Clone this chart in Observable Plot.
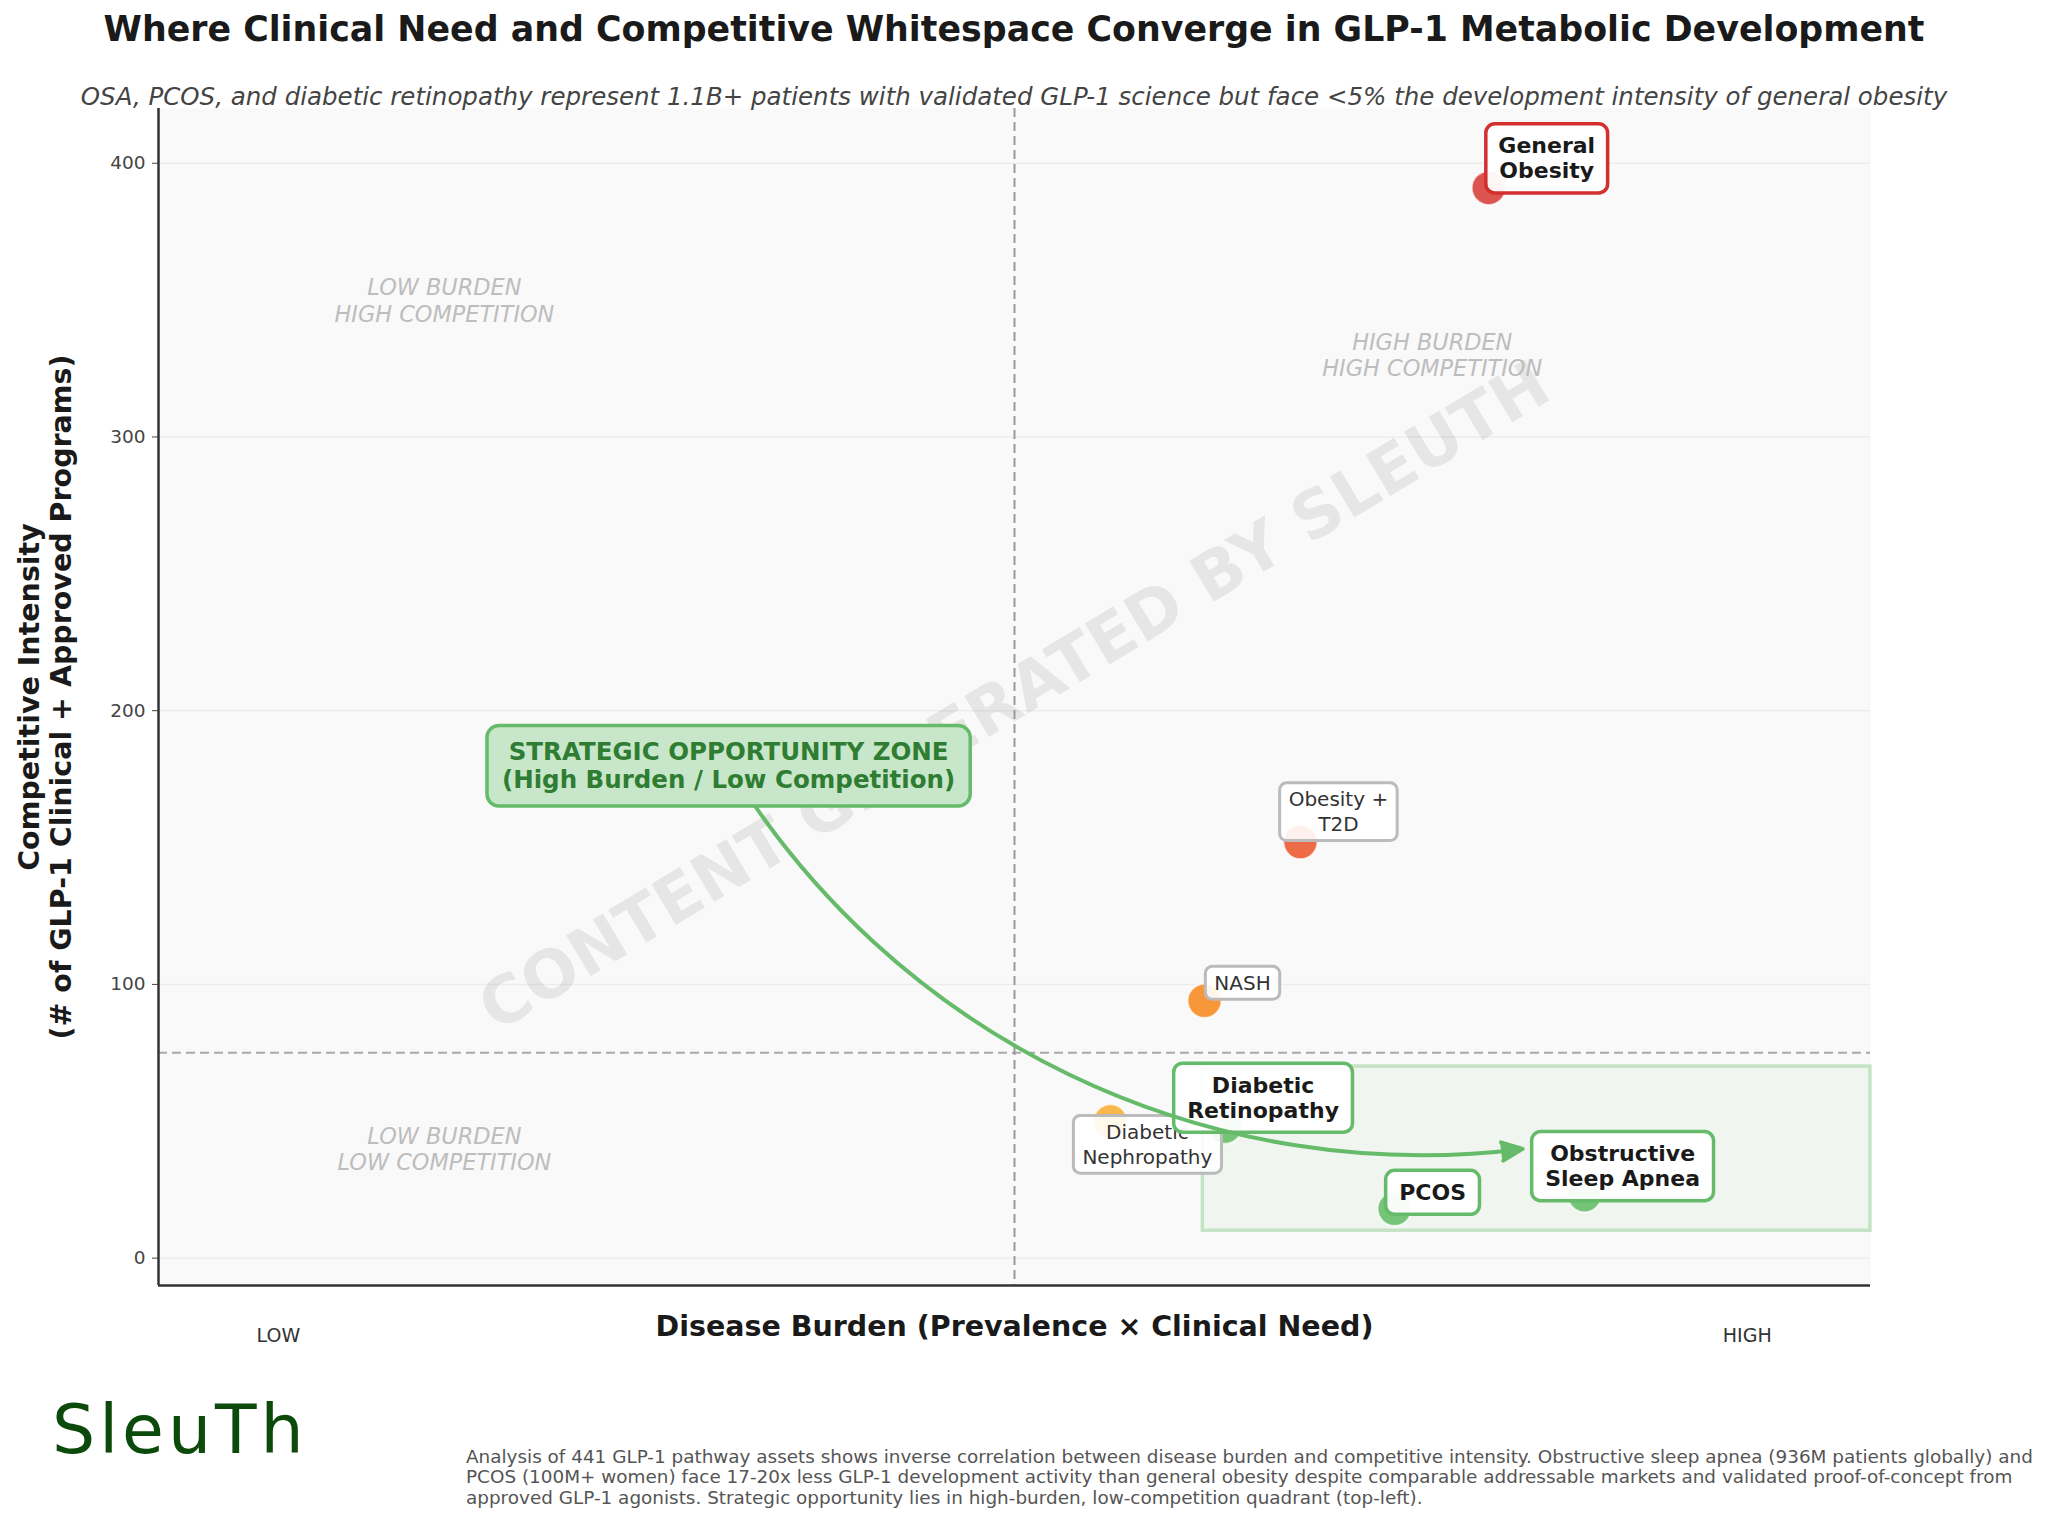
<!DOCTYPE html>
<html>
<head>
<meta charset="utf-8">
<script src="https://cdn.jsdelivr.net/npm/d3@7"></script>
<script src="https://cdn.jsdelivr.net/npm/@observablehq/plot@0.6"></script>
<style>
  html, body { margin: 0; padding: 0; background: #ffffff; }
  body { width: 2048px; height: 1524px; overflow: hidden; position: relative; font-family: "DejaVu Sans", sans-serif; }
  #chart { position: absolute; left: 0; top: 0; }
  #title { position: absolute; left: 0; width: 2028px; top: 9px; text-align: center; font-size: 34.8px; line-height: 40px; font-weight: bold; color: #1a1a1a; }
  #subtitle { position: absolute; left: 0; width: 2028px; top: 82px; text-align: center; font-size: 24.5px; line-height: 30px; font-style: italic; color: #444; }
  #logo { position: absolute; left: 52px; top: 1390px; font-size: 68px; line-height: 80px; font-weight: 400; color: #0b4a0b; letter-spacing: 4px; }
  #caption { position: absolute; left: 466px; top: 1447px; font-size: 18.4px; line-height: 20.3px; color: #555; white-space: pre; }
</style>
</head>
<body>
<div id="chart"></div>
<div id="title"></div>
<div id="subtitle"></div>
<div id="logo"></div>
<div id="caption"></div>
<script>
// ---------- Text ----------
const titleText = "Where Clinical Need and Competitive Whitespace Converge in GLP-1 Metabolic Development";
const subtitleText = "OSA, PCOS, and diabetic retinopathy represent 1.1B+ patients with validated GLP-1 science but face <5% the development intensity of general obesity";
const xAxisLabel = "Disease Burden (Prevalence × Clinical Need)";
const yAxisLabel = "Competitive Intensity\n(# of GLP-1 Clinical + Approved Programs)";
const watermarkText = "CONTENT GENERATED BY SLEUTH";
const logoText = "SleuTh";
const captionLines = [
  "Analysis of 441 GLP-1 pathway assets shows inverse correlation between disease burden and competitive intensity. Obstructive sleep apnea (936M patients globally) and",
  "PCOS (100M+ women) face 17-20x less GLP-1 development activity than general obesity despite comparable addressable markets and validated proof-of-concept from",
  "approved GLP-1 agonists. Strategic opportunity lies in high-burden, low-competition quadrant (top-left)."
];

// ---------- Data ----------
const indications = ["General Obesity", "Obesity + T2D", "NASH", "Diabetic Nephropathy", "Diabetic Retinopathy", "PCOS", "Obstructive Sleep Apnea"];
const labelText = ["General\nObesity", "Obesity +\nT2D", "NASH", "Diabetic\nNephropathy", "Diabetic\nRetinopathy", "PCOS", "Obstructive\nSleep Apnea"];
const diseaseBurden = [7.77, 6.67, 6.11, 5.56, 6.23, 7.22, 8.33];
const competitiveIntensity = [391, 152, 94, 50, 48, 18, 23];

const highlightRed = ["General Obesity"];
const highlightGreen = ["Diabetic Retinopathy", "PCOS", "Obstructive Sleep Apnea"];
const labelBelow = ["Diabetic Nephropathy"];

const yTicks = [0, 100, 200, 300, 400];
const xTickPositions = [0.7, 9.28];
const xTickLabels = ["LOW", "HIGH"];

const burdenThreshold = 5;
const competitionThreshold = 75;

const quadrantLabels = ["LOW BURDEN\nHIGH COMPETITION", "HIGH BURDEN\nHIGH COMPETITION", "LOW BURDEN\nLOW COMPETITION"];
const quadrantBurden = [1.67, 7.44, 1.67];
const quadrantCompetition = [350, 330, 40];

const zoneBurden = [6.1, 10];
const zoneCompetition = [10, 70];

const calloutText = "STRATEGIC OPPORTUNITY ZONE\n(High Burden / Low Competition)";
const calloutBurden = 3.33;
const calloutCompetition = 180;
const arrowTargetBurden = 7.98;
const arrowTargetCompetition = 40;

// colours (styles)
const pointColors = ["#dc5450", "#ee6b47", "#f7973a", "#f8b84e", "#74c476", "#76c478", "#76c478"];

// ---------- Build ----------
const rows = indications.map((name, i) => ({
  name, label: labelText[i], burden: diseaseBurden[i], competition: competitiveIntensity[i]
}));
const quadrants = quadrantLabels.map((t, i) => ({t, x: quadrantBurden[i], y: quadrantCompetition[i]}));

document.getElementById("title").textContent = titleText;
document.getElementById("subtitle").textContent = subtitleText;
document.getElementById("logo").textContent = logoText;
document.getElementById("caption").textContent = captionLines.join("\n");

const grayRows = rows.filter(d => !highlightRed.includes(d.name) && !highlightGreen.includes(d.name) && !labelBelow.includes(d.name));

const chart = Plot.plot({
  width: 2048,
  height: 1380,
  marginLeft: 158,
  marginRight: 178,
  marginTop: 108,
  marginBottom: 95,
  x: {domain: [0, 10]},
  y: {domain: [-10, 420]},
  color: {domain: indications, range: pointColors},
  style: {fontFamily: "DejaVu Sans", fontSize: "17px", color: "#333", background: "transparent", overflow: "visible"},
  marks: [
    Plot.frame({fill: "#f9f9f9", stroke: null}),
    Plot.text([watermarkText], {frameAnchor: "middle", rotate: -31, fontSize: 65.5, fontWeight: "bold", fill: "#000", fillOpacity: 0.075}),
    Plot.gridY({ticks: yTicks, stroke: "#000", strokeOpacity: 0.05, strokeWidth: 1.5}),
    Plot.text(quadrants, {x: "x", y: "y", text: "t", fontSize: 22.4, fontStyle: "italic", fill: "#bdbdbd", lineHeight: 1.17}),
    Plot.ruleX([burdenThreshold], {stroke: "#9a9a9a", strokeWidth: 2, strokeDasharray: "9,5"}),
    Plot.ruleY([competitionThreshold], {stroke: "#9a9a9a", strokeWidth: 2, strokeDasharray: "9,5", strokeOpacity: 0.85}),
    Plot.rect([0], {x1: () => zoneBurden[0], x2: () => zoneBurden[1], y1: () => zoneCompetition[0], y2: () => zoneCompetition[1],
      fill: "#4caf50", fillOpacity: 0.05, stroke: "#a5d6a7", strokeOpacity: 0.6, strokeWidth: 3.5}),
    Plot.dot(rows, {x: "burden", y: "competition", r: 17, fill: "name", stroke: "white", strokeWidth: 2, strokeOpacity: 0.7}),
    // labels
    Plot.text(grayRows, {x: "burden", y: "competition", text: "label", className: "lbl-gray",
      fontSize: 20, fill: "#333", lineHeight: 1.24, lineAnchor: "bottom", dx: 38, dy: -11}),
    Plot.text(rows.filter(d => labelBelow.includes(d.name)), {x: "burden", y: "competition", text: "label", className: "lbl-gray",
      fontSize: 20, fill: "#333", lineHeight: 1.24, lineAnchor: "top", dx: 37, dy: 0}),
    Plot.text(rows.filter(d => highlightGreen.includes(d.name)), {x: "burden", y: "competition", text: "label", className: "lbl-green",
      fontSize: 22, fontWeight: "bold", fill: "#1a1a1a", lineHeight: 1.14, lineAnchor: "bottom", dx: 38, dy: -9}),
    Plot.text(rows.filter(d => highlightRed.includes(d.name)), {x: "burden", y: "competition", text: "label", className: "lbl-red",
      fontSize: 22, fontWeight: "bold", fill: "#1a1a1a", lineHeight: 1.14, lineAnchor: "bottom", dx: 58, dy: -9.5}),
    // arrow
    Plot.arrow([0], {x1: () => calloutBurden, y1: () => calloutCompetition, x2: () => arrowTargetBurden, y2: () => arrowTargetCompetition,
      bend: -33, stroke: "#66bb6a", strokeWidth: 4, headLength: 8.5, headAngle: 48, insetEnd: 2, className: "callout-arrow"}),
    Plot.text([calloutText], {x: () => calloutBurden, y: () => calloutCompetition, text: d => d, className: "lbl-zone",
      fontSize: 24.5, fontWeight: "bold", fill: "#2e7d32", lineHeight: 1.12}),
    // axes
    Plot.ruleX([0], {stroke: "#333", strokeWidth: 2.5}),
    Plot.ruleY([-10], {stroke: "#333", strokeWidth: 2.5}),
    Plot.axisY({ticks: yTicks, tickSize: 6, tickPadding: 7, fontSize: 18.5, color: "#444", label: null}),
    Plot.axisX({ticks: xTickPositions, tickFormat: d => xTickLabels[xTickPositions.indexOf(d)], tickSize: 0, tickPadding: 43, fontSize: 19, color: "#333", label: null}),
    Plot.text([xAxisLabel], {frameAnchor: "bottom", dy: 50, text: d => d, fontSize: 28.5, fontWeight: "bold", fill: "#1a1a1a"}),
    Plot.text([yAxisLabel], {frameAnchor: "left", textAnchor: "middle", dx: -113.5, rotate: -90, text: d => d, fontSize: 28.5, fontWeight: "bold", fill: "#1a1a1a", lineHeight: 1.1})
  ]
});

document.getElementById("chart").appendChild(chart);

function addBoxes(cls, o) {
  chart.querySelectorAll(`g.${cls} text`).forEach(t => {
    const bb = t.getBBox();
    const r = document.createElementNS("http://www.w3.org/2000/svg", "rect");
    r.setAttribute("x", bb.x - o.padX);
    r.setAttribute("y", bb.y - o.padY);
    r.setAttribute("width", bb.width + 2 * o.padX);
    r.setAttribute("height", bb.height + 2 * o.padY);
    r.setAttribute("rx", o.rx);
    r.setAttribute("fill", o.fill);
    r.setAttribute("fill-opacity", o.fillOpacity);
    r.setAttribute("stroke", o.stroke);
    r.setAttribute("stroke-width", o.strokeWidth);
    const tr = t.getAttribute("transform");
    if (tr) r.setAttribute("transform", tr);
    t.parentNode.insertBefore(r, t);
  });
}
addBoxes("lbl-gray", {padX: 9, padY: 4.5, rx: 7, fill: "#fff", fillOpacity: 0.9, stroke: "#bbbbbb", strokeWidth: 3});
addBoxes("lbl-green", {padX: 13.5, padY: 9.5, rx: 9, fill: "#fff", fillOpacity: 0.95, stroke: "#66bb6a", strokeWidth: 3.5});
addBoxes("lbl-red", {padX: 12.5, padY: 9.5, rx: 9, fill: "#fff", fillOpacity: 0.95, stroke: "#d32f2f", strokeWidth: 3.5});
addBoxes("lbl-zone", {padX: 15, padY: 12, rx: 12, fill: "#c8e6c9", fillOpacity: 1, stroke: "#66bb6a", strokeWidth: 3.5});

// filled arrow head, derived from the head segment of Plot's arrow path
chart.querySelectorAll("g.callout-arrow path").forEach(p => {
  const d = p.getAttribute("d");
  const m = d.match(/M([-\d.e]+),([-\d.e]+)L([-\d.e]+),([-\d.e]+)L([-\d.e]+),([-\d.e]+)\s*$/);
  if (m) {
    const head = document.createElementNS("http://www.w3.org/2000/svg", "path");
    head.setAttribute("d", `M${m[1]},${m[2]}L${m[3]},${m[4]}L${m[5]},${m[6]}Z`);
    head.setAttribute("fill", "#66bb6a");
    head.setAttribute("stroke", "#66bb6a");
    head.setAttribute("stroke-width", 2);
    const tr = p.getAttribute("transform");
    if (tr) head.setAttribute("transform", tr);
    p.parentNode.appendChild(head);
  }
});
</script>
</body>
</html>
